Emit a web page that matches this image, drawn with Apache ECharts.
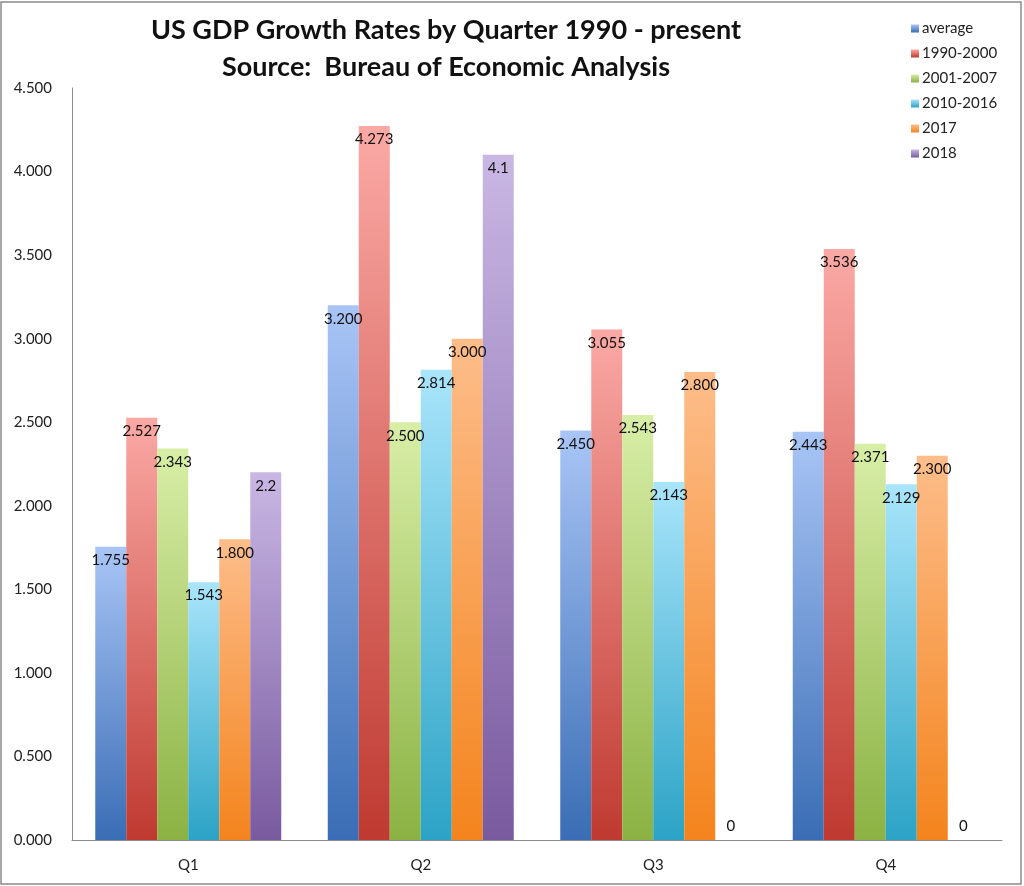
<!DOCTYPE html>
<html>
  <head>
    <meta charset="utf-8" />
    <title>US GDP Growth Rates by Quarter</title>
    <script src="https://cdn.jsdelivr.net/npm/echarts@6/dist/echarts.min.js"></script>
    <style>
      html, body { margin: 0; padding: 0; background: #fff; }
    </style>
  </head>
  <body>
    <div id="chart" style="width: 1024px; height: 886px;"></div>
    <script type="text/javascript">
      // quarters on the x axis
      var quarters = ['Q1', 'Q2', 'Q3', 'Q4'];
      var seriesNames = ['average', '1990-2000', '2001-2007', '2010-2016', '2017', '2018'];

      // values
      var avgValues = [1.755, 3.200, 2.450, 2.443];
      var v1990 = [2.527, 4.273, 3.055, 3.536];
      var v2001 = [2.343, 2.500, 2.543, 2.371];
      var v2010 = [1.543, 2.814, 2.143, 2.129];
      var v2017 = [1.800, 3.000, 2.800, 2.300];
      var v2018 = [2.2, 4.1, 0, 0];

      var seriesValues = [avgValues, v1990, v2001, v2010, v2017, v2018];

      // [top, bottom] gradient colours for each series
      var colorPairs = [
        ['#a9c5f6', '#3a6db5'],
        ['#fba9a5', '#bf3a31'],
        ['#d8eea7', '#8bb243'],
        ['#a9e5fb', '#2ca3c6'],
        ['#fdbd8a', '#f4841d'],
        ['#c9b7e4', '#795a9f']
      ];

      var labelFont = 'Lato, "Open Sans", sans-serif';

      var series = seriesNames.map(function (name, i) {
        var raw = i === 5; // 2018 labels are shown without fixed decimals
        return {
          name: name,
          type: 'bar',
          barGap: '0%',
          barCategoryGap: '20%',
          itemStyle: {
            color: new echarts.graphic.LinearGradient(0, 0, 0, 1, [
              { offset: 0, color: colorPairs[i][0] },
              { offset: 1, color: colorPairs[i][1] }
            ])
          },
          label: {
            show: true,
            position: 'insideTop',
            distance: 6,
            color: '#111',
            fontFamily: labelFont,
            fontSize: 15,
            formatter: function (p) {
              return raw ? String(p.value) : p.value.toFixed(3);
            }
          },
          data: seriesValues[i].map(function (v) {
            if (v === 0) {
              return { value: v, label: { position: 'top', distance: 6 } };
            }
            return v;
          })
        };
      });

      var chart = echarts.init(document.getElementById('chart'));
      chart.setOption({
        animation: false,
        backgroundColor: '#fff',
        title: {
          text: 'US GDP Growth Rates by Quarter 1990 - present\nSource:  Bureau of Economic Analysis',
          left: 441,
          top: 7,
          textAlign: 'center',
          textStyle: {
            fontFamily: labelFont,
            fontSize: 27,
            fontWeight: 'bold',
            color: '#111',
            lineHeight: 37
          }
        },
        legend: {
          orient: 'vertical',
          left: 906,
          top: 16,
          itemWidth: 8,
          itemHeight: 8,
          itemGap: 10,
          icon: 'rect',
          textStyle: {
            fontFamily: labelFont,
            fontSize: 15,
            color: '#222',
            padding: [0, 0, 0, -2]
          },
          data: seriesNames
        },
        grid: {
          left: 72,
          right: 22,
          top: 88,
          bottom: 46,
          containLabel: false
        },
        xAxis: {
          type: 'category',
          data: quarters,
          axisLine: { lineStyle: { color: '#8c8c8c', width: 1 } },
          axisTick: { show: false },
          axisLabel: {
            fontFamily: labelFont,
            fontSize: 15,
            color: '#222',
            margin: 18
          }
        },
        yAxis: {
          type: 'value',
          min: 0,
          max: 4.5,
          interval: 0.5,
          axisLine: { show: true, lineStyle: { color: '#8c8c8c', width: 1 } },
          axisTick: { show: false },
          splitLine: { show: false },
          axisLabel: {
            fontFamily: labelFont,
            fontSize: 15,
            color: '#222',
            margin: 20,
            formatter: function (v) { return v.toFixed(3); }
          }
        },
        graphic: [{
          type: 'rect',
          shape: { x: 1, y: 2, width: 1020, height: 882 },
          style: { fill: 'none', stroke: '#8a8a8a', lineWidth: 1.5 },
          silent: true
        }],
        series: series
      });
    </script>
  </body>
</html>
